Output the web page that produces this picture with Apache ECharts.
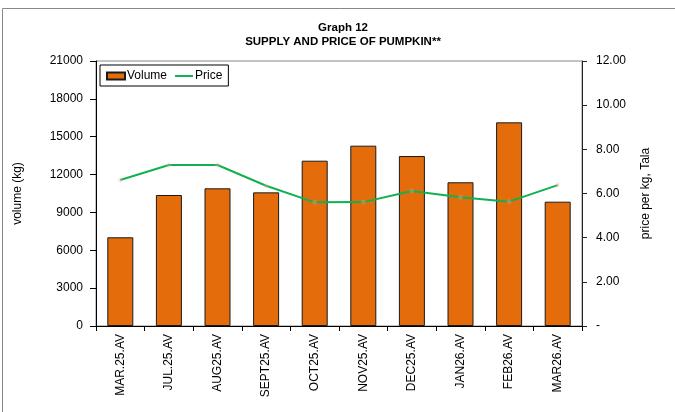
<!DOCTYPE html>
<html>
<head>
<meta charset="utf-8">
<script src="https://cdn.jsdelivr.net/npm/echarts@6/dist/echarts.min.js"></script>
<style>
  html, body { margin: 0; padding: 0; background: #fff; }
  #chart { width: 675px; height: 412px; }
</style>
</head>
<body>
<div id="chart"></div>
<script>
const categories = ['MAR.25.AV', 'JUL.25.AV', 'AUG25.AV', 'SEPT25.AV', 'OCT25.AV',
  'NOV25.AV', 'DEC25.AV', 'JAN26.AV', 'FEB26.AV', 'MAR26.AV']
const volume = [7030, 10380, 10910, 10590, 13100, 14290, 13470, 11390, 16140, 9850]
const price = [6.61, 7.29, 7.29, 6.35, 5.60, 5.61, 6.11, 5.83, 5.63, 6.38]

const font = 'Liberation Sans, Arial, sans-serif'

const myChart = echarts.init(document.getElementById('chart'))

const option = {
  backgroundColor: '#fff',
  animation: false,
  textStyle: { fontFamily: font },
  title: {
    text: 'Graph 12\nSUPPLY AND PRICE OF PUMPKIN**',
    left: 338,
    textAlign: 'center',
    top: 16,
    textStyle: { fontSize: 11.5, fontWeight: 'bold', color: '#000', lineHeight: 14, fontFamily: font }
  },
  graphic: [{
    type: 'rect',
    shape: { x: 2.5, y: 8.5, width: 700, height: 420 },
    style: { fill: 'none', stroke: '#888', lineWidth: 1 },
    silent: true
  }],
  legend: {
    left: 100,
    top: 65,
    padding: [5, 6, 4, 6],
    itemGap: 8,
    itemWidth: 18,
    itemHeight: 7,
    borderColor: '#000',
    borderWidth: 1,
    backgroundColor: '#fff',
    textStyle: { fontSize: 12, color: '#000', fontFamily: font, padding: [0, 0, 0, -3] },
    data: [
      { name: 'Volume', icon: 'rect' },
      { name: 'Price', icon: 'path://M0,5L18,5L18,7L0,7Z', itemStyle: { color: '#11b050' } }
    ]
  },
  grid: {
    left: 96,
    right: 93,
    top: 61,
    bottom: 86,
    show: true,
    borderColor: '#888',
    borderWidth: 1,
    backgroundColor: 'transparent'
  },
  xAxis: {
    type: 'category',
    data: categories,
    axisLine: { lineStyle: { color: '#000', width: 1 } },
    axisTick: { show: true, length: 5, lineStyle: { color: '#000' } },
    axisLabel: { rotate: 90, fontSize: 12, color: '#000', margin: 8, fontFamily: font }
  },
  yAxis: [{
    type: 'value',
    min: 0,
    max: 21000,
    interval: 3000,
    name: 'volume (kg)',
    nameLocation: 'middle',
    nameGap: 72,
    nameRotate: 90,
    nameTextStyle: { fontSize: 12, color: '#000', fontFamily: font },
    axisLine: { show: true, lineStyle: { color: '#000' } },
    axisTick: { show: true, length: 6, lineStyle: { color: '#000' } },
    axisLabel: {
      fontSize: 12, color: '#000', margin: 13, fontFamily: font,
      formatter: v => String(v)
    },
    splitLine: { show: false }
  }, {
    type: 'value',
    min: 0,
    max: 12,
    interval: 2,
    position: 'right',
    name: 'price per kg, Tala',
    nameLocation: 'middle',
    nameGap: 58,
    nameRotate: 90,
    nameTextStyle: { fontSize: 12, color: '#000', fontFamily: font },
    axisLine: { show: true, lineStyle: { color: '#222' } },
    axisTick: { show: true, length: 5, lineStyle: { color: '#222' } },
    axisLabel: {
      fontSize: 12, color: '#000', margin: 14, fontFamily: font,
      formatter: v => v === 0 ? '-' : v.toFixed(2)
    },
    splitLine: { show: false }
  }],
  series: [{
    name: 'Volume',
    type: 'bar',
    yAxisIndex: 0,
    barWidth: 26,
    data: volume,
    itemStyle: { color: '#e46c0a', borderColor: '#1a1a1a', borderWidth: 1 }
  }, {
    name: 'Price',
    type: 'line',
    yAxisIndex: 1,
    data: price,
    symbol: 'diamond',
    symbolSize: 6,
    lineStyle: { color: '#11b050', width: 2 },
    itemStyle: { color: 'rgba(255,170,170,0.3)', borderWidth: 0 },
    z: 5
  }]
}

myChart.setOption(option)
</script>
</body>
</html>
